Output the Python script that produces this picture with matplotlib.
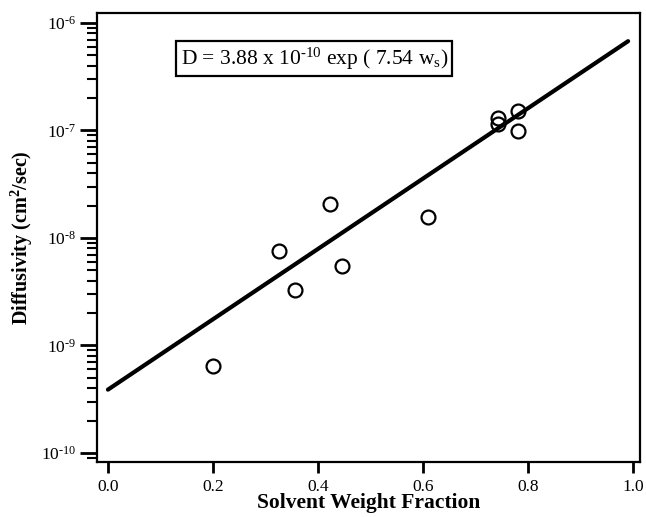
import numpy as np
import matplotlib
matplotlib.use("Agg")
import matplotlib.pyplot as plt
from matplotlib.ticker import LogLocator, FixedLocator, NullFormatter

plt.rcParams['font.family'] = ['Liberation Serif', 'DejaVu Serif']
plt.rcParams['mathtext.fontset'] = 'custom'
plt.rcParams['mathtext.rm'] = 'Liberation Serif'
plt.rcParams['mathtext.it'] = 'Liberation Serif:italic'
plt.rcParams['mathtext.bf'] = 'Liberation Serif:bold'

# measured diffusivities
solvent_fraction = [0.20, 0.325, 0.356, 0.423, 0.446, 0.61, 0.742, 0.742, 0.780, 0.780]
diffusivity = [6.4e-10, 7.6e-9, 3.3e-9, 2.07e-8, 5.5e-9, 1.57e-8, 1.31e-7, 1.15e-7, 1.52e-7, 9.9e-8]

# exponential fit D = A exp(B w)
fit_prefactor = 3.88e-10
fit_exponent = 7.54
fit_range = [0.0, 0.99]

HY = "\u2010"  # short hyphen used in exponents
x_ticks = [0.0, 0.2, 0.4, 0.6, 0.8, 1.0]
x_ticklabels = ["0.0", "0.2", "0.4", "0.6", "0.8", "1.0"]
y_ticks = [1e-10, 1e-9, 1e-8, 1e-7, 1e-6]
y_ticklabels = [r"10$^{" + HY + str(k) + "}$" for k in (10, 9, 8, 7, 6)]

fig = plt.figure(figsize=(6.46, 5.17), dpi=100)
ax = fig.add_axes([0.150, 0.106, 0.841, 0.869])

w = np.linspace(fit_range[0], fit_range[1], 200)
ax.plot(w, fit_prefactor * np.exp(fit_exponent * w), color='black', lw=3.0,
        solid_capstyle='round')
ax.plot(solvent_fraction, diffusivity, linestyle='none', marker='o', ms=10,
        mfc='none', mec='black', mew=1.6)

ax.set_yscale('log')
ax.set_xlim(-0.021, 1.013)
ax.set_ylim(0.82e-10, 1.24e-6)

ax.xaxis.set_major_locator(FixedLocator(x_ticks))
ax.set_xticklabels(x_ticklabels)
ax.yaxis.set_major_locator(FixedLocator(y_ticks))
ax.set_yticklabels(y_ticklabels)
ax.yaxis.set_minor_locator(LogLocator(base=10, subs=np.arange(2, 10)))
ax.yaxis.set_minor_formatter(NullFormatter())

ax.tick_params(axis='x', which='major', direction='out', length=8, width=2,
               labelsize=12.5, pad=4, top=False)
ax.tick_params(axis='y', which='major', direction='out', length=12, width=2,
               labelsize=12.5, pad=3, right=False)
ax.tick_params(axis='y', which='minor', direction='out', length=7, width=1.5,
               right=False)

for s in ax.spines.values():
    s.set_linewidth(1.6)

ax.set_xlabel("Solvent Weight Fraction", fontsize=15.5, fontweight='bold', labelpad=-1)
ax.set_ylabel(r"Diffusivity (cm$^{\mathbf{2}}$/sec)", fontsize=14.5, fontweight='bold',
              labelpad=4)

ax.text(0.40, 0.898, r"D = 3.88 x 10$^{" + HY + r"10}$ exp ( 7.54 w$_{\mathrm{s}}$)",
        transform=ax.transAxes, ha='center', va='center', fontsize=15.5,
        bbox=dict(boxstyle='square,pad=0.2', fc='white', ec='black', lw=1.6))

fig.savefig("out.png", dpi=100)
